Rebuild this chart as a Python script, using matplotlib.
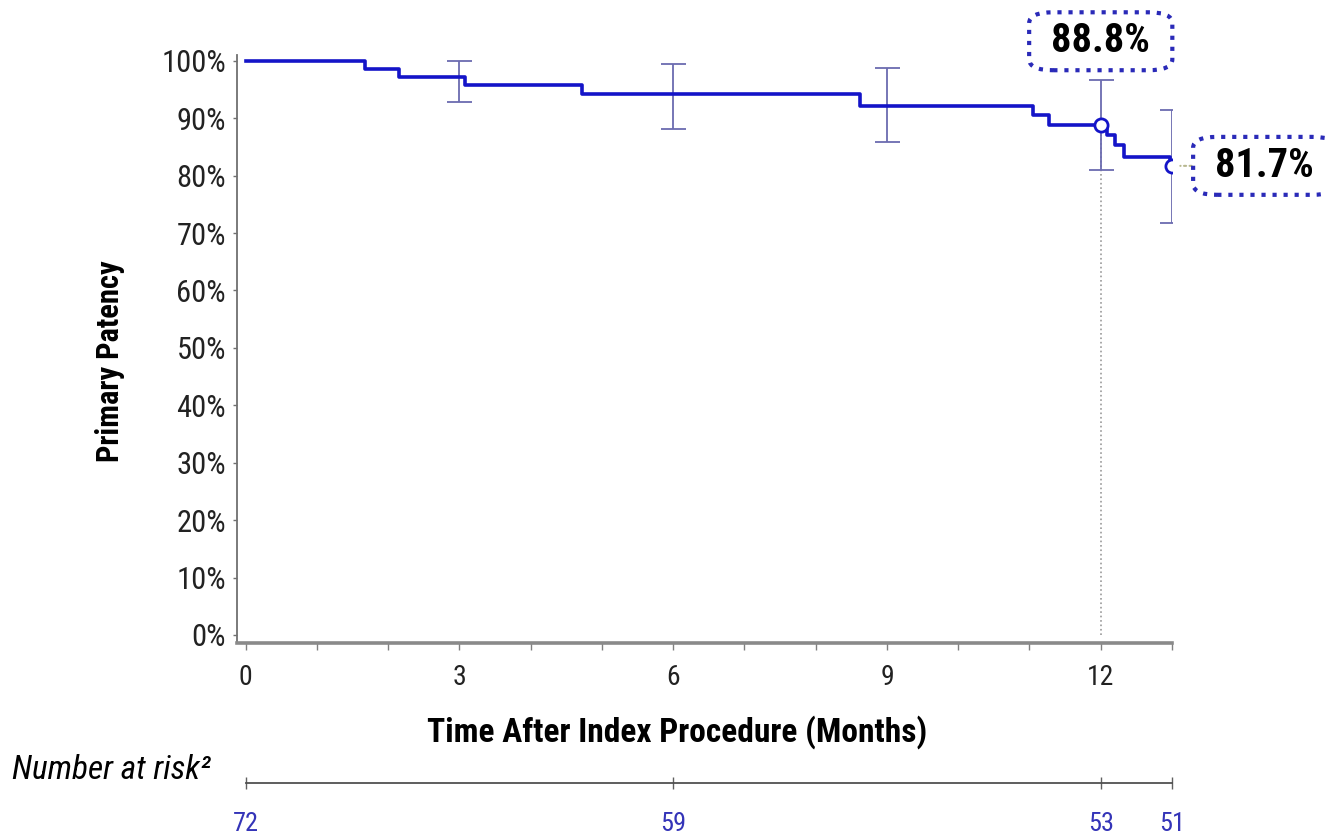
import matplotlib
matplotlib.use('Agg')
import matplotlib.pyplot as plt
from matplotlib import font_manager
import matplotlib.patheffects as pe
import numpy as np

# the original uses a condensed gothic face; look for a narrow family
faces = {}
for f in font_manager.fontManager.ttflist:
    w = f.weight if isinstance(f.weight, int) else {'bold': 700}.get(f.weight, 400)
    faces.setdefault(f.name, set()).add(w)
fam = None
for name in ['Roboto Condensed', 'Liberation Sans Narrow', 'Open Sans Condensed',
             'Noto Sans Condensed']:
    if name in faces:
        fam = name
        break
if fam is None:
    for f in font_manager.fontManager.ttflist:
        if 'Condensed' in f.name or 'Narrow' in f.name:
            fam = f.name
            break
if fam is None:
    fam = 'Liberation Sans'
has_bold = any(w >= 600 for w in faces.get(fam, []))

plt.rcParams['font.family'] = [fam, 'DejaVu Sans']


def heavy(**kw):
    # bold face if there is one, otherwise thicken the regular one
    if has_bold:
        return dict(fontweight='bold', **kw)
    return dict(path_effects=[pe.withStroke(linewidth=1.3, foreground='black')], **kw)


# Kaplan-Meier curve (months, % patent)
km_time = [0, 1.68, 2.16, 3.08, 4.72, 8.62, 11.05, 11.27, 12.09, 12.2, 12.33, 12.97, 13.0]
km_surv = [100, 98.6, 97.2, 95.8, 94.3, 92.1, 90.5, 88.8, 87.1, 85.4, 83.3, 81.7, 81.7]

# confidence intervals
ci_time = [3, 6, 9, 12, 13]
ci_low = [92.9, 88.1, 85.8, 80.9, 71.8]
ci_high = [100, 99.5, 98.7, 96.6, 91.5]

# highlighted points
mark_time = [12, 13]
mark_val = [88.8, 81.7]
mark_text = ['88.8%', '81.7%']

# number at risk
risk_time = [0, 6, 12, 13]
risk_n = [72, 59, 53, 51]

blue = '#1414c8'
ci_col = '#6b6bb0'
box_col = '#2a2ab8'

fig = plt.figure(figsize=(13.27, 8.39), dpi=100)
ax = fig.add_axes([0.1786, 0.2336, 0.7046, 0.7008])

# error bars
mid = [(a + b) / 2 for a, b in zip(ci_low, ci_high)]
err = [[m - a for m, a in zip(mid, ci_low)], [b - m for m, b in zip(mid, ci_high)]]
ax.errorbar(ci_time, mid, yerr=err, fmt='none', ecolor=ci_col, elinewidth=1.3,
            capsize=9, capthick=1.3, zorder=2)

ax.vlines(12, 0, 88.8, colors='#9a9a9a', linestyles=':', linewidth=1.2, zorder=1)

ax.step(km_time, km_surv, where='post', color=blue, lw=2.6, zorder=3)
ax.plot(mark_time, mark_val, 'o', ms=9.5, mfc='white', mec=blue, mew=2, zorder=4)

box = dict(boxstyle='round,pad=0.55,rounding_size=0.6', fc='white', ec=box_col,
           ls=':', lw=3, mutation_aspect=0.45)
ax.text(12, 103.4, mark_text[0], ha='center', va='center', fontsize=29,
        bbox=box, clip_on=False, zorder=5, **heavy())
ax.annotate(mark_text[1], xy=(13, 81.7), xytext=(14.3, 81.7), ha='center',
            va='center', fontsize=29, bbox=box, annotation_clip=False, zorder=5,
            arrowprops=dict(arrowstyle='-', ls=':', color='#b8b890', lw=1.5,
                            shrinkA=0, shrinkB=6), **heavy())

ax.set_xlim(-0.12, 13.0)
ax.set_ylim(-1.4, 101)
ax.set_yticks(np.arange(0, 101, 10))
ax.set_yticklabels(['{}%'.format(v) for v in range(0, 101, 10)])
ax.set_xticks([0, 3, 6, 9, 12])
ax.set_xticks(np.arange(0, 14, 1), minor=True)

for s in ['top', 'right']:
    ax.spines[s].set_visible(False)
ax.spines['left'].set_color('#707070')
ax.spines['left'].set_linewidth(1.3)
ax.spines['bottom'].set_color('#8a8a8a')
ax.spines['bottom'].set_linewidth(2.6)

ax.tick_params(axis='y', length=3, width=1, color='#707070', pad=5, labelsize=22,
               labelcolor='#222222')
ax.tick_params(axis='x', which='both', length=5, width=1, color='#808080', pad=10,
               labelsize=20, labelcolor='#222222')

fig.text(0.0829, 0.5697, 'Primary Patency', rotation=90, ha='center', va='center',
         fontsize=22, **heavy())
fig.text(0.510, 0.1275, 'Time After Index Procedure (Months)', ha='center',
         va='center', fontsize=24, **heavy())
fig.text(0.009, 0.0822, 'Number at risk\u00b2', ha='left', va='center',
         fontsize=24, style='italic')

# number at risk strip
rax = fig.add_axes([0.1786, 0.0667, 0.7046, 0.001])
rax.set_xlim(-0.12, 13.0)
rax.set_yticks([])
for s in ['top', 'right', 'left']:
    rax.spines[s].set_visible(False)
rax.spines['bottom'].set_bounds(0, 13)
rax.spines['bottom'].set_color('#505050')
rax.spines['bottom'].set_linewidth(1.3)
rax.set_xticks(risk_time)
rax.set_xticklabels([str(n) for n in risk_n])
rax.tick_params(axis='x', direction='inout', length=9, width=1, color='#606060',
                pad=16, labelsize=19, labelcolor='#3434b8')

fig.savefig('out.png', dpi=100)
